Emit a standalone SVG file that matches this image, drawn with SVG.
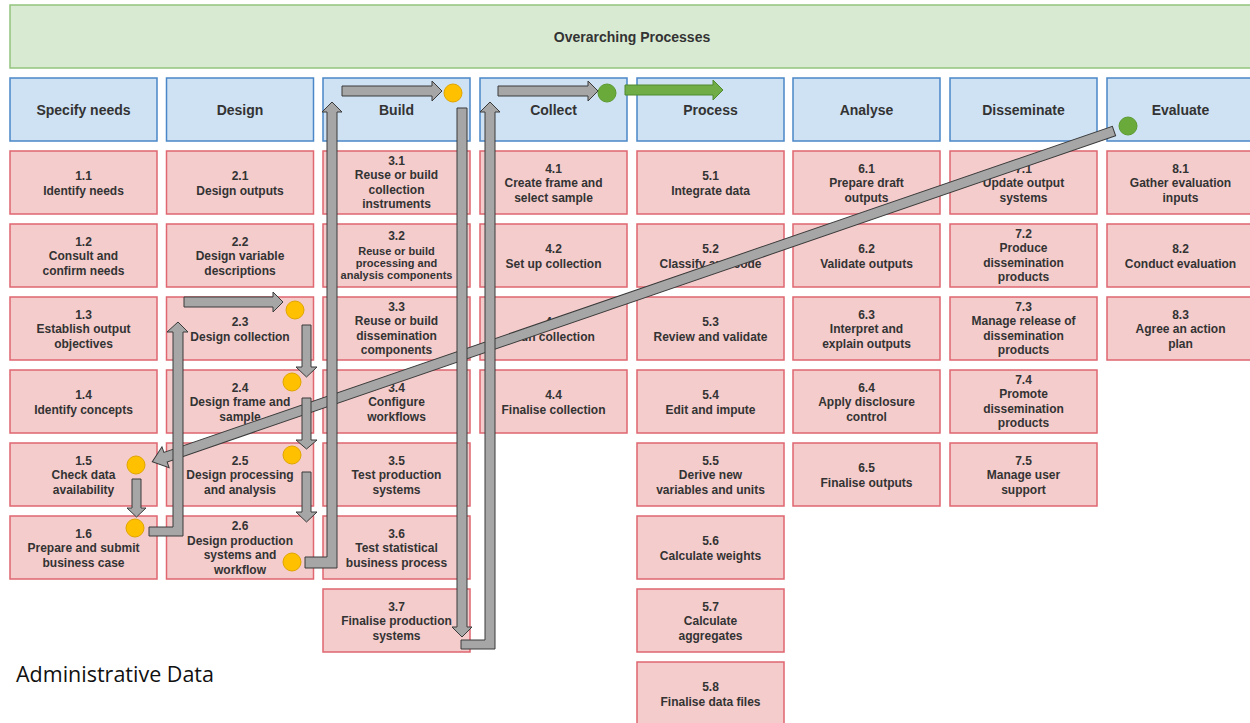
<svg xmlns="http://www.w3.org/2000/svg" width="1250" height="723" viewBox="0 0 1250 723">
<defs>
<style>
.top{fill:#d9ead3;stroke:#93c47d;stroke-width:1.5}
.hdr{fill:#cfe2f3;stroke:#4a86c8;stroke-width:1.5}
.nd{fill:#f4cccc;stroke:#e06670;stroke-width:1.5}
text{font-family:"Liberation Sans",Arial,sans-serif;font-weight:bold;fill:#333;text-anchor:middle}
.h{font-size:14px}
.t{font-size:12px}
.s{font-size:11px}
.arr{fill:#a6a6a6;stroke:#3a3a3a;stroke-width:1}
.garr{fill:#70ad47;stroke:#4e8a2e;stroke-width:1}
.yc{fill:#ffc000;stroke:#e0a500;stroke-width:1}
.gc{fill:#6aaa3a;stroke:#5b9a30;stroke-width:1}
</style>
</defs>
<rect width="1250" height="723" fill="#fff"/>
<g id="overarching"><rect class="top" x="10" y="5" width="1246" height="63"/><text class="h" x="632" y="42">Overarching Processes</text></g>

<g id="h1"><rect class="hdr" x="10" y="78" width="147" height="63"/><text class="h" x="83.5" y="115">Specify needs</text></g>
<g id="h2"><rect class="hdr" x="166.5" y="78" width="147" height="63"/><text class="h" x="240" y="115">Design</text></g>
<g id="h3"><rect class="hdr" x="323" y="78" width="147" height="63"/><text class="h" x="396.5" y="115">Build</text></g>
<g id="h4"><rect class="hdr" x="480" y="78" width="147" height="63"/><text class="h" x="553.5" y="115">Collect</text></g>
<g id="h5"><rect class="hdr" x="637" y="78" width="147" height="63"/><text class="h" x="710.5" y="115">Process</text></g>
<g id="h6"><rect class="hdr" x="793" y="78" width="147" height="63"/><text class="h" x="866.5" y="115">Analyse</text></g>
<g id="h7"><rect class="hdr" x="950" y="78" width="147" height="63"/><text class="h" x="1023.5" y="115">Disseminate</text></g>
<g id="h8"><rect class="hdr" x="1107" y="78" width="147" height="63"/><text class="h" x="1180.5" y="115">Evaluate</text></g>

<!-- column 1 -->
<g id="n1_1"><rect class="nd" x="10" y="151" width="147" height="63"/><text class="t" x="83.5" y="180">1.1<tspan x="83.5" dy="14.5">Identify needs</tspan></text></g>
<g id="n1_2"><rect class="nd" x="10" y="224" width="147" height="63"/><text class="t" x="83.5" y="245.5">1.2<tspan x="83.5" dy="14.5">Consult and</tspan><tspan x="83.5" dy="14.5">confirm needs</tspan></text></g>
<g id="n1_3"><rect class="nd" x="10" y="297" width="147" height="63"/><text class="t" x="83.5" y="318.5">1.3<tspan x="83.5" dy="14.5">Establish output</tspan><tspan x="83.5" dy="14.5">objectives</tspan></text></g>
<g id="n1_4"><rect class="nd" x="10" y="370" width="147" height="63"/><text class="t" x="83.5" y="399">1.4<tspan x="83.5" dy="14.5">Identify concepts</tspan></text></g>
<g id="n1_5"><rect class="nd" x="10" y="443" width="147" height="63"/><text class="t" x="83.5" y="464.5">1.5<tspan x="83.5" dy="14.5">Check data</tspan><tspan x="83.5" dy="14.5">availability</tspan></text></g>
<g id="n1_6"><rect class="nd" x="10" y="516" width="147" height="63"/><text class="t" x="83.5" y="537.5">1.6<tspan x="83.5" dy="14.5">Prepare and submit</tspan><tspan x="83.5" dy="14.5">business case</tspan></text></g>

<!-- column 2 -->
<g id="n2_1"><rect class="nd" x="166.5" y="151" width="147" height="63"/><text class="t" x="240" y="180">2.1<tspan x="240" dy="14.5">Design outputs</tspan></text></g>
<g id="n2_2"><rect class="nd" x="166.5" y="224" width="147" height="63"/><text class="t" x="240" y="245.5">2.2<tspan x="240" dy="14.5">Design variable</tspan><tspan x="240" dy="14.5">descriptions</tspan></text></g>
<g id="n2_3"><rect class="nd" x="166.5" y="297" width="147" height="63"/><text class="t" x="240" y="326">2.3<tspan x="240" dy="14.5">Design collection</tspan></text></g>
<g id="n2_4"><rect class="nd" x="166.5" y="370" width="147" height="63"/><text class="t" x="240" y="391.5">2.4<tspan x="240" dy="14.5">Design frame and</tspan><tspan x="240" dy="14.5">sample</tspan></text></g>
<g id="n2_5"><rect class="nd" x="166.5" y="443" width="147" height="63"/><text class="t" x="240" y="464.5">2.5<tspan x="240" dy="14.5">Design processing</tspan><tspan x="240" dy="14.5">and analysis</tspan></text></g>
<g id="n2_6"><rect class="nd" x="166.5" y="516" width="147" height="63"/><text class="t" x="240" y="530">2.6<tspan x="240" dy="14.5">Design production</tspan><tspan x="240" dy="14.5">systems and</tspan><tspan x="240" dy="14.5">workflow</tspan></text></g>

<!-- column 3 -->
<g id="n3_1"><rect class="nd" x="323" y="151" width="147" height="63"/><text class="t" x="396.5" y="164.5">3.1<tspan x="396.5" dy="14.5">Reuse or build</tspan><tspan x="396.5" dy="14.5">collection</tspan><tspan x="396.5" dy="14.5">instruments</tspan></text></g>
<g id="n3_2"><rect class="nd" x="323" y="224" width="147" height="63"/><text class="t" x="396.5" y="240">3.2<tspan class="s" x="396.5" dy="14.5">Reuse or build</tspan><tspan class="s" x="396.5" dy="12">processing and</tspan><tspan class="s" x="396.5" dy="12">analysis components</tspan></text></g>
<g id="n3_3"><rect class="nd" x="323" y="297" width="147" height="63"/><text class="t" x="396.5" y="310.5">3.3<tspan x="396.5" dy="14.5">Reuse or build</tspan><tspan x="396.5" dy="14.5">dissemination</tspan><tspan x="396.5" dy="14.5">components</tspan></text></g>
<g id="n3_4"><rect class="nd" x="323" y="370" width="147" height="63"/><text class="t" x="396.5" y="391.5">3.4<tspan x="396.5" dy="14.5">Configure</tspan><tspan x="396.5" dy="14.5">workflows</tspan></text></g>
<g id="n3_5"><rect class="nd" x="323" y="443" width="147" height="63"/><text class="t" x="396.5" y="464.5">3.5<tspan x="396.5" dy="14.5">Test production</tspan><tspan x="396.5" dy="14.5">systems</tspan></text></g>
<g id="n3_6"><rect class="nd" x="323" y="516" width="147" height="63"/><text class="t" x="396.5" y="537.5">3.6<tspan x="396.5" dy="14.5">Test statistical</tspan><tspan x="396.5" dy="14.5">business process</tspan></text></g>
<g id="n3_7"><rect class="nd" x="323" y="589" width="147" height="63"/><text class="t" x="396.5" y="610.5">3.7<tspan x="396.5" dy="14.5">Finalise production</tspan><tspan x="396.5" dy="14.5">systems</tspan></text></g>

<!-- column 4 -->
<g id="n4_1"><rect class="nd" x="480" y="151" width="147" height="63"/><text class="t" x="553.5" y="172.5">4.1<tspan x="553.5" dy="14.5">Create frame and</tspan><tspan x="553.5" dy="14.5">select sample</tspan></text></g>
<g id="n4_2"><rect class="nd" x="480" y="224" width="147" height="63"/><text class="t" x="553.5" y="253">4.2<tspan x="553.5" dy="14.5">Set up collection</tspan></text></g>
<g id="n4_3"><rect class="nd" x="480" y="297" width="147" height="63"/><text class="t" x="553.5" y="326">4.3<tspan x="553.5" dy="14.5">Run collection</tspan></text></g>
<g id="n4_4"><rect class="nd" x="480" y="370" width="147" height="63"/><text class="t" x="553.5" y="399">4.4<tspan x="553.5" dy="14.5">Finalise collection</tspan></text></g>

<!-- column 5 -->
<g id="n5_1"><rect class="nd" x="637" y="151" width="147" height="63"/><text class="t" x="710.5" y="180">5.1<tspan x="710.5" dy="14.5">Integrate data</tspan></text></g>
<g id="n5_2"><rect class="nd" x="637" y="224" width="147" height="63"/><text class="t" x="710.5" y="253">5.2<tspan x="710.5" dy="14.5">Classify and code</tspan></text></g>
<g id="n5_3"><rect class="nd" x="637" y="297" width="147" height="63"/><text class="t" x="710.5" y="326">5.3<tspan x="710.5" dy="14.5">Review and validate</tspan></text></g>
<g id="n5_4"><rect class="nd" x="637" y="370" width="147" height="63"/><text class="t" x="710.5" y="399">5.4<tspan x="710.5" dy="14.5">Edit and impute</tspan></text></g>
<g id="n5_5"><rect class="nd" x="637" y="443" width="147" height="63"/><text class="t" x="710.5" y="464.5">5.5<tspan x="710.5" dy="14.5">Derive new</tspan><tspan x="710.5" dy="14.5">variables and units</tspan></text></g>
<g id="n5_6"><rect class="nd" x="637" y="516" width="147" height="63"/><text class="t" x="710.5" y="545">5.6<tspan x="710.5" dy="14.5">Calculate weights</tspan></text></g>
<g id="n5_7"><rect class="nd" x="637" y="589" width="147" height="63"/><text class="t" x="710.5" y="610.5">5.7<tspan x="710.5" dy="14.5">Calculate</tspan><tspan x="710.5" dy="14.5">aggregates</tspan></text></g>
<g id="n5_8"><rect class="nd" x="637" y="662" width="147" height="63"/><text class="t" x="710.5" y="691">5.8<tspan x="710.5" dy="14.5">Finalise data files</tspan></text></g>

<!-- column 6 -->
<g id="n6_1"><rect class="nd" x="793" y="151" width="147" height="63"/><text class="t" x="866.5" y="172.5">6.1<tspan x="866.5" dy="14.5">Prepare draft</tspan><tspan x="866.5" dy="14.5">outputs</tspan></text></g>
<g id="n6_2"><rect class="nd" x="793" y="224" width="147" height="63"/><text class="t" x="866.5" y="253">6.2<tspan x="866.5" dy="14.5">Validate outputs</tspan></text></g>
<g id="n6_3"><rect class="nd" x="793" y="297" width="147" height="63"/><text class="t" x="866.5" y="318.5">6.3<tspan x="866.5" dy="14.5">Interpret and</tspan><tspan x="866.5" dy="14.5">explain outputs</tspan></text></g>
<g id="n6_4"><rect class="nd" x="793" y="370" width="147" height="63"/><text class="t" x="866.5" y="391.5">6.4<tspan x="866.5" dy="14.5">Apply disclosure</tspan><tspan x="866.5" dy="14.5">control</tspan></text></g>
<g id="n6_5"><rect class="nd" x="793" y="443" width="147" height="63"/><text class="t" x="866.5" y="472">6.5<tspan x="866.5" dy="14.5">Finalise outputs</tspan></text></g>

<!-- column 7 -->
<g id="n7_1"><rect class="nd" x="950" y="151" width="147" height="63"/><text class="t" x="1023.5" y="172.5">7.1<tspan x="1023.5" dy="14.5">Update output</tspan><tspan x="1023.5" dy="14.5">systems</tspan></text></g>
<g id="n7_2"><rect class="nd" x="950" y="224" width="147" height="63"/><text class="t" x="1023.5" y="237.5">7.2<tspan x="1023.5" dy="14.5">Produce</tspan><tspan x="1023.5" dy="14.5">dissemination</tspan><tspan x="1023.5" dy="14.5">products</tspan></text></g>
<g id="n7_3"><rect class="nd" x="950" y="297" width="147" height="63"/><text class="t" x="1023.5" y="310.5">7.3<tspan x="1023.5" dy="14.5">Manage release of</tspan><tspan x="1023.5" dy="14.5">dissemination</tspan><tspan x="1023.5" dy="14.5">products</tspan></text></g>
<g id="n7_4"><rect class="nd" x="950" y="370" width="147" height="63"/><text class="t" x="1023.5" y="383.5">7.4<tspan x="1023.5" dy="14.5">Promote</tspan><tspan x="1023.5" dy="14.5">dissemination</tspan><tspan x="1023.5" dy="14.5">products</tspan></text></g>
<g id="n7_5"><rect class="nd" x="950" y="443" width="147" height="63"/><text class="t" x="1023.5" y="464.5">7.5<tspan x="1023.5" dy="14.5">Manage user</tspan><tspan x="1023.5" dy="14.5">support</tspan></text></g>

<!-- column 8 -->
<g id="n8_1"><rect class="nd" x="1107" y="151" width="147" height="63"/><text class="t" x="1180.5" y="172.5">8.1<tspan x="1180.5" dy="14.5">Gather evaluation</tspan><tspan x="1180.5" dy="14.5">inputs</tspan></text></g>
<g id="n8_2"><rect class="nd" x="1107" y="224" width="147" height="63"/><text class="t" x="1180.5" y="253">8.2<tspan x="1180.5" dy="14.5">Conduct evaluation</tspan></text></g>
<g id="n8_3"><rect class="nd" x="1107" y="297" width="147" height="63"/><text class="t" x="1180.5" y="318.5">8.3<tspan x="1180.5" dy="14.5">Agree an action</tspan><tspan x="1180.5" dy="14.5">plan</tspan></text></g>

<text x="16" y="682" style="font-family:'Open Sans','Liberation Sans',sans-serif;font-weight:normal;font-size:21.5px;fill:#111;text-anchor:start">Administrative Data</text>

<g id="connectors">
<polygon class="arr" transform="translate(1114,131) rotate(161.02)" points="0,-5 1003,-5 1003,-11 1017,0 1003,11 1003,5 0,5"/>
<polygon class="arr" points="342,86 432,86 432,81 442,91 432,101 432,96 342,96"/>
<polygon class="arr" points="498,86 588,86 588,81 598,91 588,101 588,96 498,96"/>
<polygon class="garr" points="625,85 713,85 713,80 723,90 713,100 713,95 625,95"/>
<polygon class="arr" points="305,557 327,557 327,112 322,112 332,102 342,112 337,112 337,568 305,568"/>
<polygon class="arr" points="457,108 467,108 467,627 472,627 462,637 452,627 457,627"/>
<polygon class="arr" points="461,640 485,640 485,112 480,112 490,102 500,112 495,112 495,649 461,649"/>
<polygon class="arr" points="184,297 273,297 273,292 283,302 273,312 273,307 184,307"/>
<polygon class="arr" points="302,325 311,325 311,367 317,367 306.5,377 296,367 302,367"/>
<polygon class="arr" points="302,398 311,398 311,440 317,440 306.5,449 296,440 302,440"/>
<polygon class="arr" points="302,472 311,472 311,512 317,512 306.5,522 296,512 302,512"/>
<polygon class="arr" points="132,479 141,479 141,508 146,508 136.5,517 127,508 132,508"/>
<polygon class="arr" points="149,527 173,527 173,332 167,332 178,322 188,332 183,332 183,536 149,536"/>
<circle class="yc" cx="453" cy="93" r="9"/>
<circle class="gc" cx="607" cy="93" r="9"/>
<circle class="gc" cx="1128" cy="126" r="9"/>
<circle class="yc" cx="295" cy="310" r="9"/>
<circle class="yc" cx="292" cy="382" r="9"/>
<circle class="yc" cx="292" cy="455" r="9"/>
<circle class="yc" cx="292" cy="562" r="9"/>
<circle class="yc" cx="136" cy="465" r="9"/>
<circle class="yc" cx="135" cy="528" r="9"/>
</g>
</svg>
